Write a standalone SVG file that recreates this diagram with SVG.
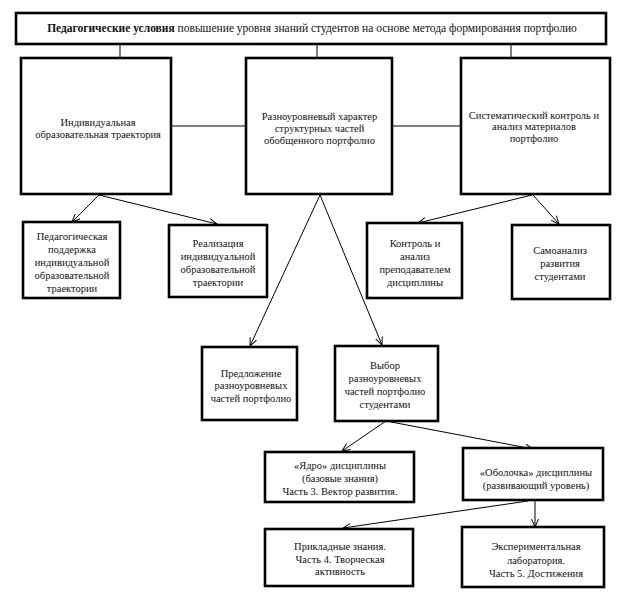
<svg xmlns="http://www.w3.org/2000/svg" width="642" height="606" viewBox="0 0 642 606" font-family="Liberation Serif, Times New Roman, serif">
<style>
.box{fill:#fff;stroke:#000;stroke-width:2.6}
text{font-size:10.5px;fill:#111;text-anchor:middle}
.c{stroke:#000;stroke-width:1;fill:none}
.a{marker-end:url(#arr)}
</style>
<defs>
<marker id="arr" markerUnits="userSpaceOnUse" markerWidth="10" markerHeight="10" refX="8" refY="4" orient="auto">
<path d="M0,0.5 L8,4 L0,7.5" fill="none" stroke="#000" stroke-width="1"/>
</marker>
</defs>
<rect width="642" height="606" fill="#fff"/>
<g id="connectors">
<line class="c" x1="120" y1="44" x2="120" y2="58"/>
<line class="c" x1="317" y1="44" x2="317" y2="58"/>
<line class="c" x1="511" y1="44" x2="511" y2="58"/>
<line class="c" x1="171" y1="126" x2="246" y2="126"/>
<line class="c" x1="392" y1="126" x2="461" y2="126"/>
<line class="c a" x1="99" y1="195" x2="72" y2="222"/>
<line class="c a" x1="99" y1="195" x2="217" y2="224"/>
<line class="c a" x1="532" y1="195" x2="418" y2="223"/>
<line class="c a" x1="533" y1="195" x2="559" y2="224"/>
<line class="c a" x1="320" y1="195" x2="250" y2="346"/>
<line class="c a" x1="320" y1="195" x2="382" y2="345"/>
<line class="c a" x1="386" y1="421" x2="342" y2="451"/>
<line class="c a" x1="386" y1="421" x2="533" y2="449"/>
<line class="c a" x1="528" y1="501" x2="343" y2="528"/>
<line class="c a" x1="535" y1="501" x2="535" y2="527"/>
</g>
<g id="title">
<rect class="box" x="16" y="13" width="590" height="31"/>
<text x="312" y="32" style="font-size:11.5px"><tspan font-weight="bold">Педагогические условия</tspan> повышение уровня знаний студентов на основе метода формирования портфолио</text>
</g>
<g id="nodeA">
<rect class="box" x="21" y="58" width="150" height="136"/>
<text x="98" y="125.5">Индивидуальная</text>
<text x="98" y="138">образовательная траектория</text>
</g>
<g id="nodeB">
<rect class="box" x="246" y="58" width="146" height="136"/>
<text x="319.5" y="119.5">Разноуровневый характер</text>
<text x="319.5" y="131.5">структурных частей</text>
<text x="319.5" y="143.5">обобщенного портфолио</text>
</g>
<g id="nodeC">
<rect class="box" x="461" y="58" width="149" height="136"/>
<text x="534" y="118.5">Систематический контроль и</text>
<text x="534" y="130">анализ материалов</text>
<text x="534" y="142">портфолио</text>
</g>
<g id="nodeD">
<rect class="box" x="23" y="222" width="97" height="76"/>
<text x="72" y="240">Педагогическая</text>
<text x="72" y="253">поддержка</text>
<text x="72" y="266">индивидуальной</text>
<text x="72" y="279">образовательной</text>
<text x="72" y="292">траектории</text>
</g>
<g id="nodeE">
<rect class="box" x="169" y="225" width="98" height="72"/>
<text x="218" y="246.5">Реализация</text>
<text x="218" y="259.5">индивидуальной</text>
<text x="218" y="273">образовательной</text>
<text x="218" y="286">траектории</text>
</g>
<g id="nodeF">
<rect class="box" x="367" y="223" width="95" height="75"/>
<text x="415" y="246.5">Контроль и</text>
<text x="415" y="260">анализ</text>
<text x="415" y="273">преподавателем</text>
<text x="415" y="286">дисциплины</text>
</g>
<g id="nodeG">
<rect class="box" x="512" y="225" width="98" height="74"/>
<text x="560" y="253.5">Самоанализ</text>
<text x="560" y="266.5">развития</text>
<text x="560" y="280">студентами</text>
</g>
<g id="nodeH">
<rect class="box" x="202" y="347" width="95" height="73"/>
<text x="251" y="376.5">Предложение</text>
<text x="251" y="389">разноуровневых</text>
<text x="251" y="401.5">частей портфолио</text>
</g>
<g id="nodeI">
<rect class="box" x="335" y="346" width="103" height="75"/>
<text x="385" y="368.5">Выбор</text>
<text x="385" y="381.5">разноуровневых</text>
<text x="385" y="395">частей портфолио</text>
<text x="385" y="407.5">студентами</text>
</g>
<g id="nodeJ">
<rect class="box" x="265" y="452" width="149" height="50"/>
<text x="340" y="468.5">«Ядро» дисциплины</text>
<text x="340" y="481.5">(базовые знания)</text>
<text x="340" y="495">Часть 3. Вектор развития.</text>
</g>
<g id="nodeK">
<rect class="box" x="463" y="448" width="140" height="52"/>
<text x="536" y="475.5">«Оболочка» дисциплины</text>
<text x="536" y="488.5">(развивающий уровень)</text>
</g>
<g id="nodeL">
<rect class="box" x="265" y="529" width="148" height="57"/>
<text x="340" y="550">Прикладные знания.</text>
<text x="340" y="562.5">Часть 4. Творческая</text>
<text x="340" y="575">активность</text>
</g>
<g id="nodeM">
<rect class="box" x="462" y="527" width="142" height="60"/>
<text x="536" y="550">Экспериментальная</text>
<text x="536" y="563.5">лаборатория.</text>
<text x="536" y="577">Часть 5.  Достижения</text>
</g>
</svg>
